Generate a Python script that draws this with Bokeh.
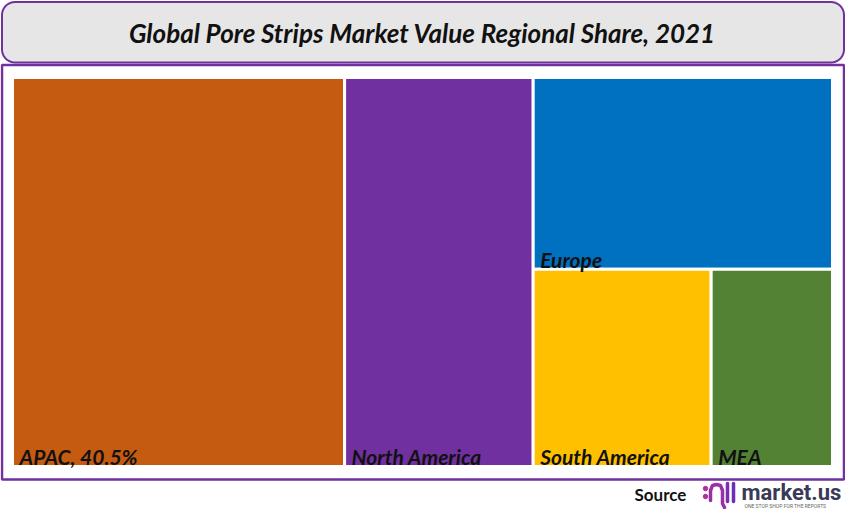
import numpy as np
from bokeh.plotting import figure
from bokeh.models import Range1d, ColumnDataSource
from bokeh.core.properties import value
from bokeh.embed import file_html
from bokeh.resources import INLINE

# ---- data ----
title = "Global Pore Strips Market Value Regional Share, 2021"
regions = ["APAC", "North America", "Europe", "South America", "MEA"]
shares = [40.5, 23.0, 18.0, 11.0, 7.5]
labels = ["APAC, 40.5%", "North America", "Europe", "South America", "MEA"]
colors = ["#c55a11", "#7030a0", "#0070c0", "#ffc000", "#548235"]

W, H = 845, 509
p = figure(width=W, height=H, output_backend="svg", toolbar_location=None,
           x_range=Range1d(0, W), y_range=Range1d(H, 0), min_border=0)
p.axis.visible = False
p.grid.visible = False
p.outline_line_color = None
p.background_fill_color = "white"
p.border_fill_color = "white"

PURPLE = "#7030a0"

# rounded title box
def rounded(x0, y0, x1, y1, r, n=10):
    xs, ys = [], []
    corners = [(x1 - r, y0 + r, -np.pi / 2, 0), (x1 - r, y1 - r, 0, np.pi / 2),
               (x0 + r, y1 - r, np.pi / 2, np.pi), (x0 + r, y0 + r, np.pi, 1.5 * np.pi)]
    for cx, cy, a0, a1 in corners:
        t = np.linspace(a0, a1, n)
        xs += list(cx + r * np.cos(t))
        ys += list(cy + r * np.sin(t))
    return xs, ys

tx, ty = rounded(1.5, 1.5, 843.5, 62, 13)
p.patch(tx, ty, fill_color="#e7e6e6", line_color=PURPLE, line_width=2)
p.text(x=[422], y=[32], text=[title], text_font=value("Lato"), text_font_style="bold italic",
       text_font_size="26px", text_align="center", text_baseline="middle", text_color="#111111")

# main box
p.quad(left=[1.5], right=[843.5], top=[64.5], bottom=[479], fill_color="white",
       line_color=PURPLE, line_width=2.5)

# treemap layout (slice and dice computed from shares)
X0, Y0, TW, TH = 12, 77, 820, 389
total = sum(shares)
a_w = TW * shares[0] / total
n_w = TW * shares[1] / total
r_w = TW - a_w - n_w
rest = shares[2] + shares[3] + shares[4]
e_h = TH * shares[2] / rest
s_w = r_w * shares[3] / (shares[3] + shares[4])

left = [X0, X0 + a_w, X0 + a_w + n_w, X0 + a_w + n_w, X0 + a_w + n_w + s_w]
right = [X0 + a_w, X0 + a_w + n_w, X0 + TW, X0 + a_w + n_w + s_w, X0 + TW]
top = [Y0, Y0, Y0, Y0 + e_h, Y0 + e_h]
bottom = [Y0 + TH, Y0 + TH, Y0 + e_h, Y0 + TH, Y0 + TH]

src = ColumnDataSource(dict(left=left, right=right, top=top, bottom=bottom, color=colors,
                            label=labels, lx=[l + 7 for l in left], ly=[b - 10 for b in bottom]))
p.quad(left="left", right="right", top="top", bottom="bottom", fill_color="color",
       line_color="white", line_width=3, source=src)
p.text(x="lx", y="ly", text="label", source=src, text_font=value("Lato"),
       text_font_style="bold italic", text_font_size="21px", text_baseline="alphabetic",
       text_color="#111111")

# source footer
p.text(x=[634], y=[494], text=["Source"], text_font=value("Lato"), text_font_style="bold",
       text_font_size="17px", text_baseline="middle", text_color="#111111")
# logo mark
p.scatter(x=[705, 705], y=[488, 496], size=4.5, color="#b0309a")
p.line(x=[710, 710, 712, 716, 720, 722, 722, 724], y=[500, 490, 485, 484, 485, 490, 503, 507],
       line_color="#9b2fa8", line_width=3.5, line_cap="round")
p.line(x=[727, 727], y=[483, 501], line_color="#7a2fb0", line_width=3.5, line_cap="round")
p.line(x=[733, 733], y=[483, 501], line_color="#6a2fb5", line_width=3.5, line_cap="round")
p.text(x=[741], y=[492], text=["market.us"], text_font=value("Roboto"), text_font_style="bold",
       text_font_size="22px", text_baseline="middle", text_color="#3a3a58")
p.text(x=[744], y=[505], text=["ONE STOP SHOP FOR THE REPORTS"], text_font=value("Roboto"),
       text_font_size="5px", text_baseline="middle", text_color="#666666")

open("out.html", "w").write(file_html(p, INLINE))
